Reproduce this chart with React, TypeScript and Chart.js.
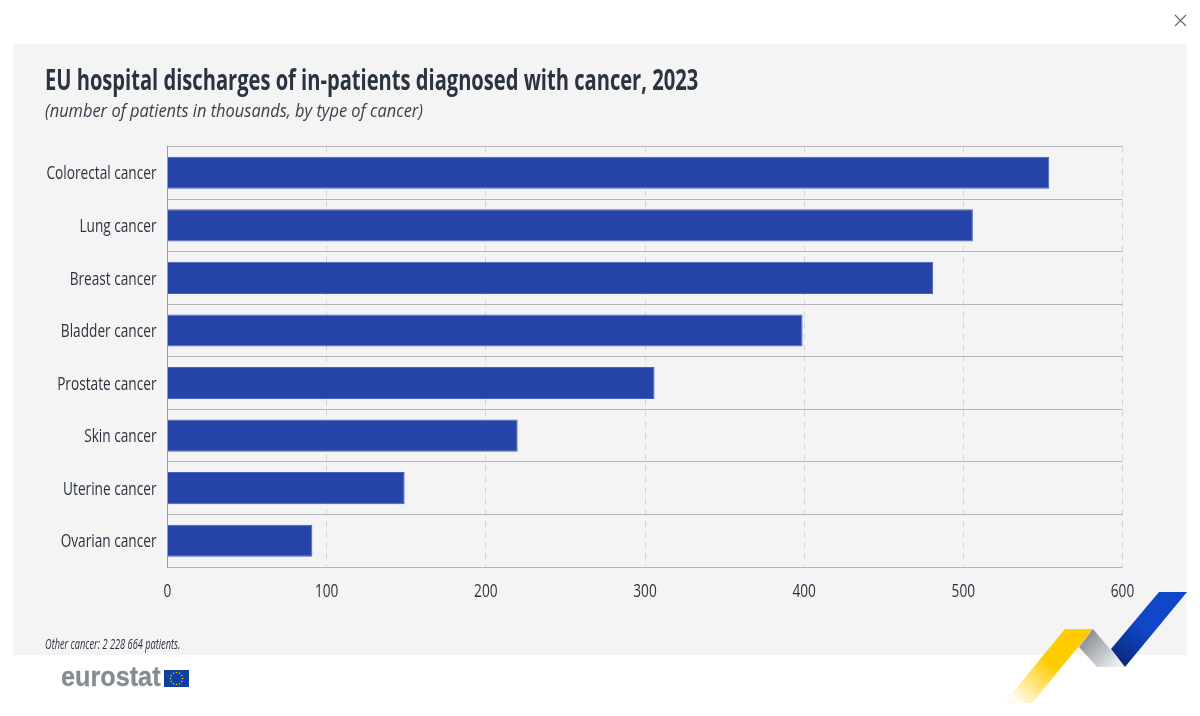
import React, { useEffect, useLayoutEffect, useRef } from "react";
import { Chart, registerables } from "chart.js";

Chart.register(...registerables);

const categories = ["Colorectal cancer", "Lung cancer", "Breast cancer", "Bladder cancer", "Prostate cancer", "Skin cancer", "Uterine cancer", "Ovarian cancer"];
const patients = [554, 506, 481, 399, 306, 220, 149, 91];
const titleText = "EU hospital discharges of in-patients diagnosed with cancer, 2023";
const subtitleText = "(number of patients in thousands, by type of cancer)";
const noteText = "Other cancer: 2 228 664 patients.";
const FONT = '"Open Sans", sans-serif';
const INK = "#2b3340";
const TICK_FONT = `18px ${FONT}`;

const stars = Array.from({ length: 12 }, (_, i) => i);

// Draws the axis labels narrowed, since no condensed face is installed.
const condensedTicks = {
  id: "condensedTicks",
  afterDatasetsDraw(chart: any) {
    const { ctx, scales } = chart;
    ctx.save();
    ctx.font = TICK_FONT;
    ctx.fillStyle = INK;
    ctx.textBaseline = "middle";
    const k = 110 / ctx.measureText(categories[0]).width;
    const put = (text: string, x: number, y: number, align: CanvasTextAlign) => {
      ctx.save();
      ctx.translate(x, y);
      ctx.scale(k, 1);
      ctx.textAlign = align;
      ctx.fillText(text, 0, 0);
      ctx.restore();
    };
    scales.y.ticks.forEach((t: any, i: number) => put(String(t.label), scales.y.right - 11, scales.y.getPixelForTick(i) + 1.5, "right"));
    scales.x.ticks.forEach((t: any, i: number) => put(String(t.label), scales.x.getPixelForTick(i), 592, "center"));
    ctx.restore();
  },
};

function FitText({ left, top, size, width, style, children }: { left: number; top: number; size: number; width: number; style: React.CSSProperties; children: string }) {
  const ref = useRef<HTMLDivElement>(null);
  useLayoutEffect(() => {
    const el = ref.current!;
    el.style.transform = `scaleX(${width / el.scrollWidth})`;
  }, [width]);
  return (
    <div ref={ref} style={{ position: "absolute", left, top, fontSize: size, lineHeight: 1, whiteSpace: "nowrap", fontFamily: FONT, color: INK, transformOrigin: "0 0", display: "inline-block", ...style }}>
      {children}
    </div>
  );
}

export default function App() {
  const ref = useRef<HTMLCanvasElement>(null);
  useEffect(() => {
    document.body.style.margin = "0";
    document.body.style.overflow = "hidden";
    const chart = new Chart(ref.current!, {
      type: "bar",
      data: {
        labels: categories,
        datasets: [{ data: patients, backgroundColor: "#2644A7", borderColor: "#4562c4", borderWidth: 1, barPercentage: 0.61, categoryPercentage: 1 }],
      },
      options: {
        indexAxis: "y",
        animation: false,
        responsive: false,
        devicePixelRatio: 1,
        layout: { padding: { left: 0, top: 146.5, right: 77.5, bottom: 0 } },
        plugins: { legend: { display: false }, tooltip: { enabled: false }, title: { display: false } },
        scales: {
          x: {
            min: 0,
            max: 600,
            afterFit: (s: any) => { s.height = 149; },
            ticks: { stepSize: 100, display: false },
            grid: { color: "#d4d4d4", drawTicks: false, lineWidth: 1 },
            border: { display: false, dash: [6, 5] },
          },
          y: {
            afterFit: (s: any) => { s.width = 167.5; },
            ticks: { display: false },
            grid: { color: "#b6b6b6", drawTicks: false, lineWidth: 1 },
            border: { display: true, color: "#9a9a9a", width: 1 },
          },
        },
      },
      plugins: [condensedTicks],
    } as any);
    return () => chart.destroy();
  }, []);

  return (
    <div style={{ position: "relative", width: 1200, height: 716, background: "#fff", overflow: "hidden" }}>
      <div style={{ position: "absolute", left: 13, top: 44, width: 1174, height: 611, background: "#f4f4f4" }} />
      <canvas ref={ref} width={1200} height={716} style={{ position: "absolute", left: 0, top: 0 }} />
      <FitText left={45} top={65} size={28} width={653} style={{ fontWeight: 700 }}>{titleText}</FitText>
      <FitText left={45} top={100.5} size={18} width={378} style={{ fontStyle: "italic", color: "#3a414d" }}>{subtitleText}</FitText>
      <FitText left={45} top={637} size={14} width={135} style={{ fontStyle: "italic" }}>{noteText}</FitText>
      <FitText left={61} top={664} size={27} width={100} style={{ fontFamily: '"Liberation Sans", sans-serif', fontWeight: 700, color: "#858a94", WebkitTextStroke: "0.3px #858a94" }}>eurostat</FitText>
      <svg width={1200} height={716} style={{ position: "absolute", left: 0, top: 0, pointerEvents: "none" }}>
        <defs>
          <linearGradient id="yel" x1="1018" y1="703" x2="1052" y2="665" gradientUnits="userSpaceOnUse">
            <stop offset="0" stopColor="#fffdf0" />
            <stop offset="1" stopColor="#ffcc00" />
          </linearGradient>
          <linearGradient id="gry" x1="1086" y1="638" x2="1115" y2="667" gradientUnits="userSpaceOnUse">
            <stop offset="0" stopColor="#8f9298" />
            <stop offset="1" stopColor="#eceef2" />
          </linearGradient>
          <linearGradient id="blu" x1="1118" y1="660" x2="1142" y2="625" gradientUnits="userSpaceOnUse">
            <stop offset="0" stopColor="#0b2a80" />
            <stop offset="1" stopColor="#0f47c8" />
          </linearGradient>
        </defs>
        <polygon points="1065,629 1093,629 1032,703 1004,703" fill="url(#yel)" />
        <polygon points="1093,629 1125,667 1097,667 1079,647" fill="url(#gry)" />
        <polygon points="1159,592 1187,592 1125,667 1111,649" fill="url(#blu)" />
        <path d="M1175 15 L1186 26 M1186 15 L1175 26" stroke="#5c6470" strokeWidth={1.1} fill="none" />
        <rect x={164} y={670} width={25} height={17} fill="#0f3f9f" />
        {stars.map((i) => (
          <circle key={i} cx={176.5 + 6 * Math.cos((i * Math.PI) / 6)} cy={678.5 + 6 * Math.sin((i * Math.PI) / 6)} r={0.8} fill="#f5c800" />
        ))}
      </svg>
    </div>
  );
}
